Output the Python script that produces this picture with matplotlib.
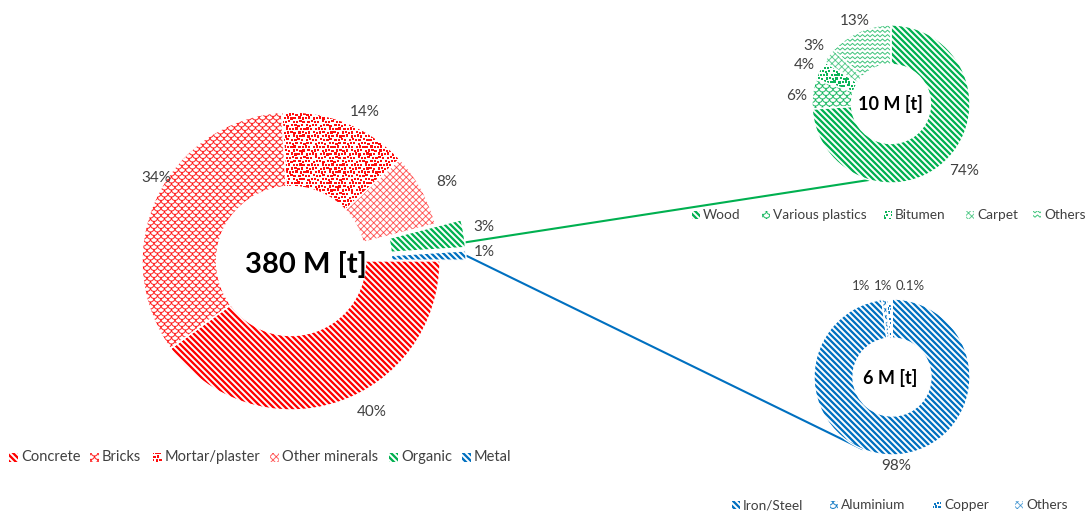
import numpy as np
import matplotlib
matplotlib.use("Agg")
import matplotlib.pyplot as plt
from matplotlib.collections import LineCollection, PolyCollection
from matplotlib.patches import Rectangle

W, H = 1086, 512

# ---- data -------------------------------------------------------------
main_labels = ["Concrete", "Bricks", "Mortar/plaster", "Other minerals", "Organic", "Metal"]
main_values = [40, 34, 14, 8, 3, 1]
main_total = "380 M [t]"

organic_labels = ["Wood", "Various plastics", "Bitumen", "Carpet", "Others"]
organic_values = [74, 6, 4, 3, 13]
organic_total = "10 M [t]"

metal_labels = ["Iron/Steel", "Aluminium", "Copper", "Others"]
metal_values = [98, 1, 1, 0.1]
metal_total = "6 M [t]"

# ---- styling ----------------------------------------------------------
RED, GREEN, BLUE = "#FF0000", "#00B050", "#0070C0"
TXT = "#404040"

main_kinds = ["stripes", "scales", "confetti", "diamond", "stripes", "stripes"]
main_colors = [RED, RED, RED, RED, GREEN, BLUE]
organic_kinds = ["stripes", "scales", "confetti", "diamond", "zigzag"]
metal_kinds = ["stripes", "scales", "confetti", "diamond"]

plt.rcParams["font.family"] = ["Lato", "DejaVu Sans"]

fig = plt.figure(figsize=(W / 100, H / 100), dpi=100)
ax = fig.add_axes([0, 0, 1, 1])

PT = 72 / 100  # points per pixel


def px(x, y):
    """Pixel position measured from the top-left corner -> data coordinates."""
    return x, H - y


def pattern_artist(kind, color, bbox):
    x0, y0, x1, y1 = bbox
    if kind == "stripes":
        s = 6.0
        segs = []
        c = np.floor((x0 + y0) / s) * s
        while c <= x1 + y1 + s:
            segs.append([(c - y1 - s, y1 + s), (c - y0 + s, y0 - s)])
            c += s
        return LineCollection(segs, colors=color, linewidths=2.3 * PT)
    if kind == "diamond":
        s = 6.5
        segs = []
        c = np.floor((x0 + y0) / s) * s
        while c <= x1 + y1 + s:
            segs.append([(c - y1 - s, y1 + s), (c - y0 + s, y0 - s)])
            c += s
        c = np.floor((x0 - y1) / s) * s
        while c <= x1 - y0 + s:
            segs.append([(c + y0 - s, y0 - s), (c + y1 + s, y1 + s)])
            c += s
        return LineCollection(segs, colors=color, linewidths=1.0 * PT, alpha=0.6)
    if kind == "scales":
        s = 7.0
        r = s / 2
        t = np.linspace(np.pi, 2 * np.pi, 9)
        segs = []
        for j in range(int(np.floor(y0 / r)) - 2, int(np.ceil(y1 / r)) + 2):
            y = j * r
            off = (j % 2) * r
            for i in range(int(np.floor((x0 - off) / s)) - 1, int(np.ceil((x1 - off) / s)) + 2):
                x = i * s + off
                segs.append(np.column_stack([x + r * np.cos(t), y + r * np.sin(t)]))
        return LineCollection(segs, colors=color, linewidths=1.1 * PT, alpha=0.8)
    if kind == "zigzag":
        p, a, dy = 5.0, 2.2, 4.4
        segs = []
        for j in range(int(np.floor(y0 / dy)) - 1, int(np.ceil(y1 / dy)) + 2):
            y = j * dy
            k0 = int(np.floor(x0 / (p / 2))) - 1
            k1 = int(np.ceil(x1 / (p / 2))) + 1
            ks = np.arange(k0, k1 + 1)
            segs.append(np.column_stack([ks * p / 2, y + (ks % 2) * a]))
        return LineCollection(segs, colors=color, linewidths=1.0 * PT, alpha=0.75)
    if kind == "confetti":
        g, a = 3.6, 2.3
        verts = []
        for j in range(int(np.floor(y0 / g)) - 1, int(np.ceil(y1 / g)) + 1):
            for i in range(int(np.floor(x0 / g)) - 1, int(np.ceil(x1 / g)) + 1):
                ox = ((i * 3 + j * 5) % 4) * 0.45 + (j % 2) * 1.8
                x = i * g + ox
                y = j * g + ((i * 7 + j) % 3) * 0.4
                verts.append([(x, y), (x + a, y), (x + a, y + a), (x, y + a)])
        return PolyCollection(verts, facecolors=color, edgecolors="none", alpha=0.95)
    raise ValueError(kind)


def fill_patch(patch, kind, color):
    ext = patch.get_path().get_extents(patch.get_patch_transform())
    art = pattern_artist(kind, color, (ext.x0, ext.y0, ext.x1, ext.y1))
    art.set_zorder(2)
    ax.add_collection(art, autolim=False)
    art.set_clip_path(patch)


def donut(values, center, radius, kinds, colors, startangle=90, explode=None):
    wedges, _ = ax.pie(
        values, radius=radius, center=px(*center), startangle=startangle,
        counterclock=False, explode=explode, frame=True,
        wedgeprops=dict(width=radius * 0.5, facecolor="none",
                        edgecolor="white", linewidth=1.0, zorder=3),
    )
    for w, k, c in zip(wedges, kinds, colors):
        fill_patch(w, k, c)
    return wedges


# ---- the three donuts -------------------------------------------------
MAIN_C, MAIN_R = (291, 261), 149
ORG_C, ORG_R = (891, 104), 79
MET_C, MET_R = (892, 377), 78
EXPL = 26

main_w = donut(main_values, MAIN_C, MAIN_R, main_kinds, main_colors,
               startangle=0, explode=[0, 0, 0, 0, EXPL, EXPL])
org_w = donut(organic_values, ORG_C, ORG_R, organic_kinds, [GREEN] * 5)
met_w = donut(metal_values, MET_C, MET_R, metal_kinds, [BLUE] * 4)

# ---- connectors ------------------------------------------------------
def wedge_point(w, ang_deg):
    cx, cy = w.center
    a = np.deg2rad(ang_deg)
    return cx + w.r * np.cos(a), cy + w.r * np.sin(a)


g_start = wedge_point(main_w[4], main_w[4].theta1 + 2)
g_end = wedge_point(org_w[0], -106)
b_start = wedge_point(main_w[5], 0.5 * (main_w[5].theta1 + main_w[5].theta2))
b_end = wedge_point(met_w[0], -112)
ax.plot([g_start[0], g_end[0]], [g_start[1], g_end[1]], color=GREEN, lw=1.5, zorder=1,
        solid_capstyle="butt")
ax.plot([b_start[0], b_end[0]], [b_start[1], b_end[1]], color=BLUE, lw=1.5, zorder=1,
        solid_capstyle="butt")

# ---- centre totals ------------------------------------------------------
ax.text(*px(306, 264), main_total, fontsize=21, fontweight="bold", ha="center", va="center")
ax.text(*px(890, 104), organic_total, fontsize=13, fontweight="bold", ha="center", va="center")
ax.text(*px(890, 378), metal_total, fontsize=13, fontweight="bold", ha="center", va="center")

# ---- percentage labels ----------------------------------------------------
def pct(v):
    return f"{v:g}%"

main_lbl_pos = [(372, 412), (156, 178), (365, 112), (447, 182), (484, 227), (484, 252)]
org_lbl_pos = [(964, 171), (797, 96), (804, 65), (814, 46), (855, 21)]
met_lbl_pos = [(896, 466), (861, 286), (883, 286), (910, 286)]
met_lbl_size = [11, 9.5, 9.5, 9.5]

for v, (x, y) in zip(main_values, main_lbl_pos):
    ax.text(*px(x, y), pct(v), fontsize=11, color=TXT, ha="center", va="center")
for v, (x, y) in zip(organic_values, org_lbl_pos):
    ax.text(*px(x, y), pct(v), fontsize=11, color=TXT, ha="center", va="center")
for v, (x, y), fs in zip(metal_values, met_lbl_pos, met_lbl_size):
    ax.text(*px(x, y), pct(v), fontsize=fs, color=TXT, ha="center", va="center")

# ---- legends ----------------------------------------------------------
def legend(labels, kinds, colors, xs, yc, size, fontsize):
    for lab, k, c, x in zip(labels, kinds, colors, xs):
        x0, y0 = px(x, yc + size / 2)
        sq = Rectangle((x0, y0), size, size, facecolor="none", edgecolor="none")
        ax.add_patch(sq)
        fill_patch(sq, k, c)
        ax.text(*px(x + size + 3, yc), lab, fontsize=fontsize, color=TXT,
                ha="left", va="center")


legend(main_labels, main_kinds, main_colors,
       [9, 90, 153, 270, 389, 462], 457, 9, 10.5)
legend(organic_labels, organic_kinds, [GREEN] * 5,
       [692, 762, 884, 966, 1033], 215, 8, 9.8)
legend(metal_labels, metal_kinds, [BLUE] * 4,
       [732, 830, 933, 1015], 505, 8, 9.8)

ax.set_xlim(0, W)
ax.set_ylim(0, H)
ax.set_aspect("equal")
ax.set_axis_off()

fig.savefig("out.png", dpi=100, facecolor="white")
